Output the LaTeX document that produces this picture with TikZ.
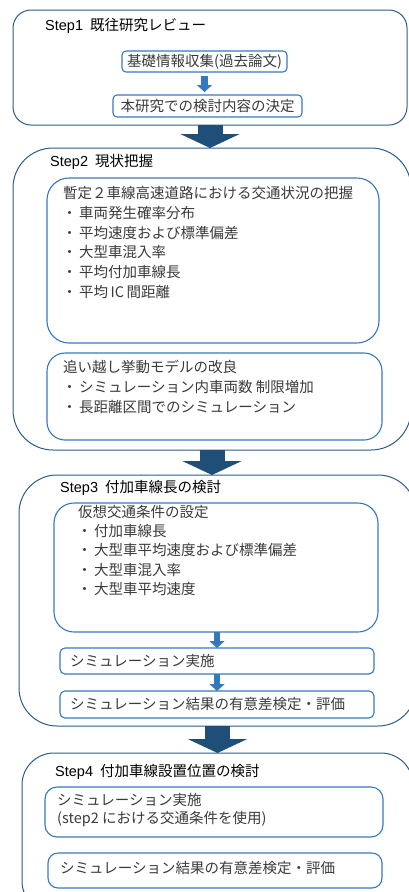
\documentclass[tikz,border=0pt]{standalone}
\usepackage{fontspec}
\setmainfont{Liberation Serif}
\newfontfamily\jp{Noto Sans CJK JP}
\newfontfamily\lsans{Liberation Sans}
\usetikzlibrary{arrows.meta}
\definecolor{outc}{HTML}{2B5C8C}
\definecolor{inc}{HTML}{3479BD}
\definecolor{bigc}{HTML}{1F4E79}
\definecolor{txt}{HTML}{3A3A3A}
\newcommand\bul{\hspace*{-3pt}\makebox[19pt][c]{・}}
\newcommand\stp[1]{{\lsans Step#1}\hspace{7pt}}
\begin{document}
\begin{tikzpicture}[x=1pt,y=-1pt,
 outbox/.style={draw=outc, line width=1pt, inner sep=0pt, outer sep=0pt},
 inbox/.style={draw=inc, line width=1.1pt, inner sep=0pt, outer sep=0pt},
 ttl/.style={anchor=west, inner sep=0pt, font=\jp\fontsize{14.5}{17}\selectfont, text=black},
 body/.style={anchor=north west, inner sep=0pt, align=left, font=\jp\fontsize{14.5}{19.8}\selectfont, text=txt},
 one/.style={anchor=west, inner sep=0pt, font=\jp\fontsize{14.5}{17}\selectfont, text=txt},
 bigarr/.style={draw=bigc, line width=25pt, -{Triangle[width=59pt,length=14pt]}},
 smallarr/.style={draw=inc, line width=6.5pt, -{Triangle[width=15pt,length=7pt]}},
]
\useasboundingbox (0,0) rectangle (408,892);

% ---------- Step 1
\node[outbox, rounded corners=18pt, minimum width=394pt, minimum height=115pt] (s1) at (210,67.5) {};
\node[ttl] (t1) at (45,26) {\stp{1}既往研究レビュー};
\node[inbox, rounded corners=4pt, minimum width=165pt, minimum height=21pt, font=\jp\fontsize{14.5}{17}\selectfont, text=txt] (b1) at (204.5,61.5) {基礎情報収集(過去論文)};
\node[inbox, rounded corners=4pt, minimum width=189pt, minimum height=22pt, font=\jp\fontsize{14.5}{17}\selectfont, text=txt] (b2) at (207.5,106) {本研究での検討内容の決定};
\draw[smallarr, shorten <=4pt, shorten >=3pt] (b1.south) -- (b1.south |- b2.north);

% ---------- Step 2
\node[outbox, rounded corners=40pt, minimum width=398pt, minimum height=302pt] (s2) at (212,299) {};
\node[ttl] (t2) at (50,162) {\stp{2}現状把握};
\node[inbox, rounded corners=22pt, minimum width=332pt, minimum height=165pt] (ba) at (213,260.5) {};
\node[body] (ta) at (63,186) {暫定２車線高速道路における交通状況の把握\\
\bul 車両発生確率分布\\
\bul 平均速度および標準偏差\\
\bul 大型車混入率\\
\bul 平均付加車線長\\
\bul 平均\,IC\,間距離};
\node[inbox, rounded corners=18pt, minimum width=335pt, minimum height=87pt] (bb) at (214.5,396.5) {};
\node[body] (tb) at (63,360) {追い越し挙動モデルの改良\\
\bul シミュレーション内車両数 制限増加\\
\bul 長距離区間でのシミュレーション};

\draw[bigarr] (s1.south) -- (s1.south |- s2.north);

% ---------- Step 3
\node[outbox, rounded corners=38pt, minimum width=397pt, minimum height=251pt] (s3) at (217.5,600.5) {};
\node[ttl] (t3) at (60,488) {\stp{3}付加車線長の検討};
\node[inbox, rounded corners=20pt, minimum width=324pt, minimum height=129pt] (bc) at (216,567.5) {};
\node[body, font=\jp\fontsize{14.5}{19.2}\selectfont] (tc) at (78,505) {仮想交通条件の設定\\
\bul 付加車線長\\
\bul 大型車平均速度および標準偏差\\
\bul 大型車混入率\\
\bul 大型車平均速度};
\node[inbox, rounded corners=5pt, minimum width=314pt, minimum height=26pt] (bd) at (217,661) {};
\node[one] (td) at (70,661) {シミュレーション実施};
\node[inbox, rounded corners=5pt, minimum width=314pt, minimum height=27pt] (be) at (217,704.5) {};
\node[one] (te) at (70,704.5) {シミュレーション結果の有意差検定・評価};
\draw[smallarr] (bc.south -| bd.north) -- (bd.north);
\draw[smallarr] (bd.south) -- (be.north);

\draw[bigarr] (s2.south) -- (s2.south |- s3.north);

% ---------- Step 4
\node[outbox, rounded corners=32pt, minimum width=391pt, minimum height=160pt] (s4) at (217.5,833) {};
\node[ttl] (t4) at (55,772) {\stp{4}付加車線設置位置の検討};
\node[inbox, rounded corners=12pt, minimum width=338pt, minimum height=50pt] (bf) at (214,812) {};
\node[body, font=\jp\fontsize{14.5}{18}\selectfont] (tf) at (57,793) {シミュレーション実施\\(step2 における交通条件を使用)};
\node[inbox, rounded corners=10pt, minimum width=334pt, minimum height=35pt] (bg) at (215,870.5) {};
\node[one] (tg) at (60,868) {シミュレーション結果の有意差検定・評価};

\draw[bigarr] (s3.south) -- (s3.south |- s4.north);
\end{tikzpicture}
\end{document}
